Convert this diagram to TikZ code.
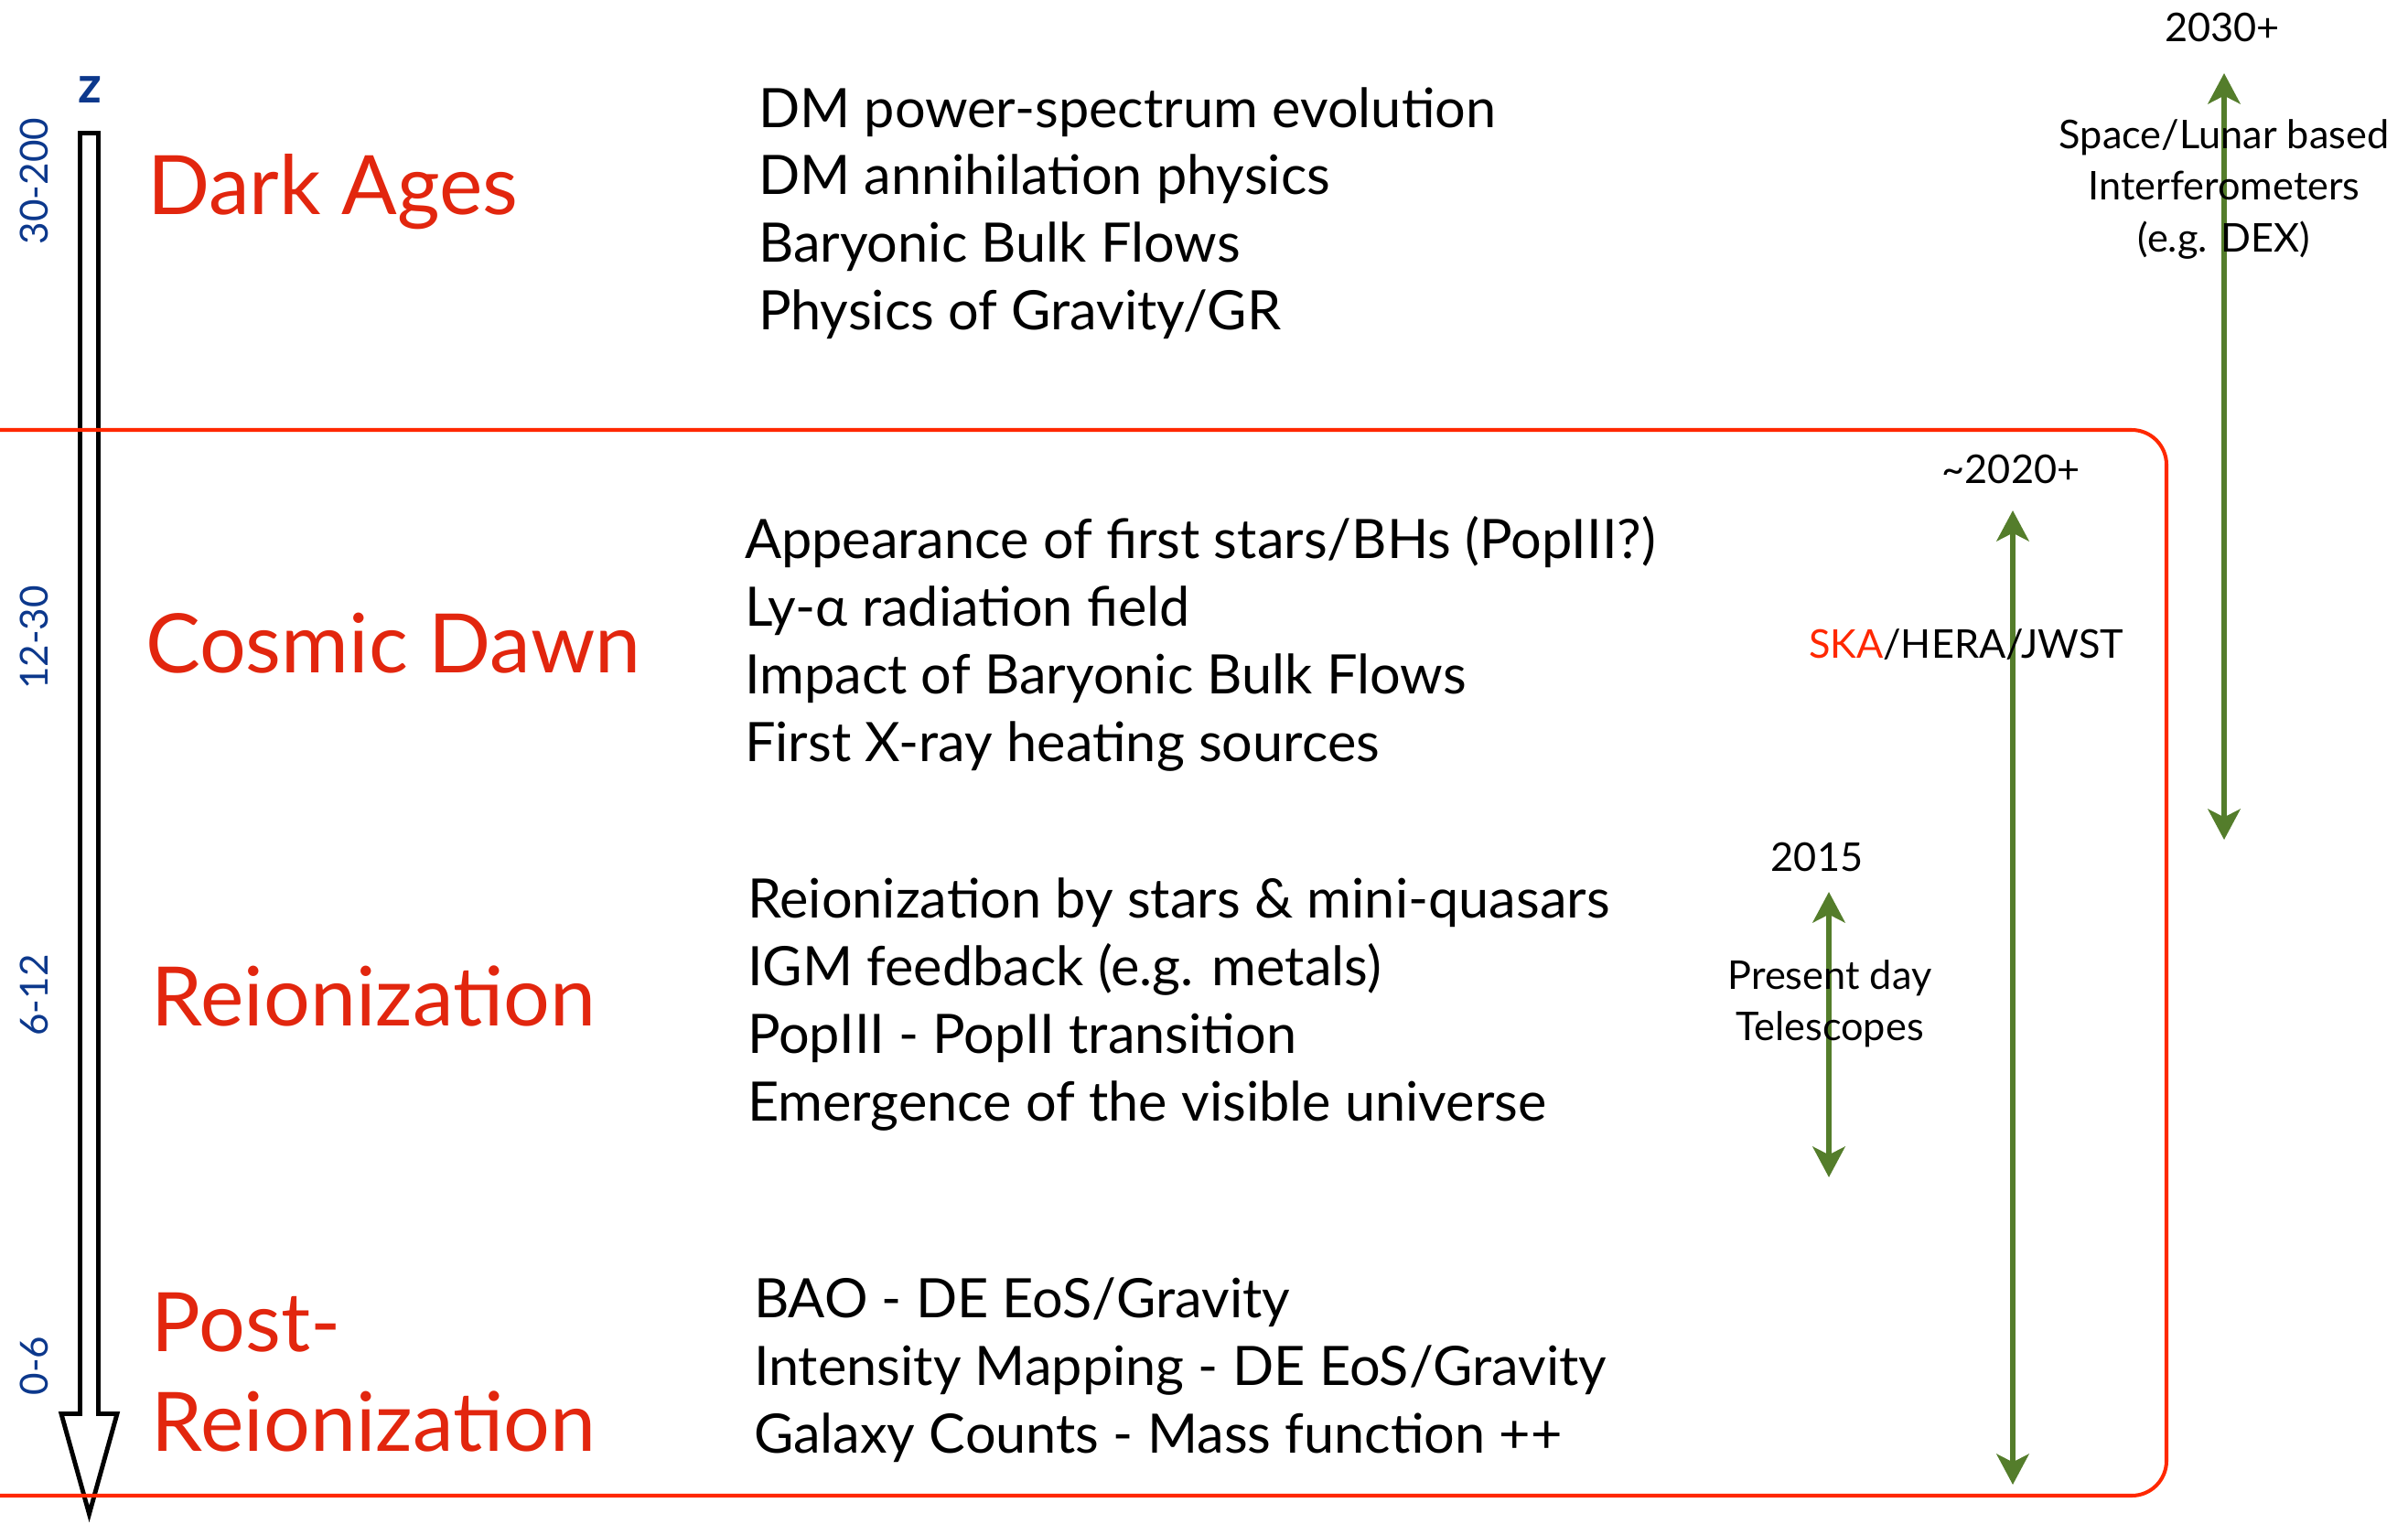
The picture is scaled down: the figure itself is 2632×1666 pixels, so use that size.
\documentclass[tikz,border=0pt]{standalone}
\usepackage{fontspec}
\setmainfont{Lato}
\usepackage{tikz}
\usetikzlibrary{positioning, arrows.meta}
\definecolor{eracol}{RGB}{226,38,14}
\definecolor{boxcol}{RGB}{255,40,0}
\definecolor{zcol}{RGB}{12,56,140}
\definecolor{telcol}{RGB}{84,125,43}

\begin{document}
\begin{tikzpicture}[x=0.01cm, y=-0.01cm,
                    every node/.style = {inner sep=0pt, outer sep=0pt, text=black},
                    era/.style = {text=eracol, anchor=base west, font=\fontsize{25.5}{31}\selectfont},
                    list/.style = {anchor=west, align=left, font=\fontsize{16.9}{21}\selectfont},
                    zlab/.style = {text=zcol, rotate=90, font=\fontsize{12}{15}\selectfont},
                    small/.style = {align=center, font=\fontsize{12.3}{16}\selectfont},
                    span/.style = {draw=telcol, line width=1.8pt,
                                   {Stealth[length=9.5pt, width=10pt, inset=2.5pt]}-{Stealth[length=9.5pt, width=10pt, inset=2.5pt]}}]
                \useasboundingbox (0,0) rectangle (2632,1666);
                \draw[line width=1.4pt, line join=miter] (87.5,145.5) -- (107.5,145.5) -- (107.5,1545.5) -- (128,1545.5)
                    -- (97.5,1655) -- (67,1545.5) -- (87.5,1545.5) -- cycle;
                \draw[boxcol, line width=1.15pt, rounded corners=0.38cm] (-60,470) rectangle (2368,1635);
                \node (z) [text=zcol, font=\fontsize{16}{18}\selectfont\bfseries] at (98,98) {z};
                \node (z1) [zlab] at (37,198)  {30-200};
                \node (z2) [zlab] at (37,697)  {12-30};
                \node (z3) [zlab] at (37,1088) {6-12};
                \node (z4) [zlab] at (37,1493) {0-6};
                \node (dark)   [era] at (161,234)  {Dark Ages};
                \node (dawn)   [era] at (159,735)  {Cosmic Dawn};
                \node (reion)  [era] at (166,1121) {Reionization};
                \node (post)   [era] at (166,1477) {Post-};
                \node (postre) [era] at (166,1586) {Reionization};
                \node (darkl)  [list] at (829,233)  {DM power-spectrum evolution\\DM annihilation physics\\Baryonic Bulk Flows\\Physics of Gravity/GR};
                \node (dawnl)  [list] at (814,704)  {Appearance of first stars/BHs (PopIII?)\\Ly-α radiation field\\Impact of Baryonic Bulk Flows\\First X-ray heating sources};
                \node (reionl) [list] at (817,1098) {Reionization by stars \& mini-quasars\\IGM feedback (e.g. metals)\\PopIII - PopII transition\\Emergence of the visible universe};
                \node (postl)  [list] at (824,1498) {BAO - DE EoS/Gravity\\Intensity Mapping - DE EoS/Gravity\\Galaxy Counts - Mass function ++};
                \coordinate (fartop) at (2431,80);
                \coordinate (farbot) at (2431,918);
                \coordinate (skatop) at (2200,558);
                \coordinate (skabot) at (2200,1623);
                \coordinate (nowtop) at (1999,975);
                \coordinate (nowbot) at (1999,1287);
                \draw[span] (fartop) -- (farbot);
                \draw[span] (skatop) -- (skabot);
                \draw[span] (nowtop) -- (nowbot);
                \node (y2030) [small] at (2429,30)  {2030+};
                \node (space) [small] at (2431,207) {Space/Lunar based\\Interferometers\\(e.g. DEX)};
                \node (y2020) [small] at (2198,513) {\textasciitilde2020+};
                \node (ska)   [small, anchor=west] at (1977,705) {\textcolor{boxcol}{SKA}/HERA/JWST};
                \node (y2015) [small] at (1986,937) {2015};
                \node (now)   [small] at (2000,1097) {Present day\\Telescopes};
            \end{tikzpicture}
\end{document}
